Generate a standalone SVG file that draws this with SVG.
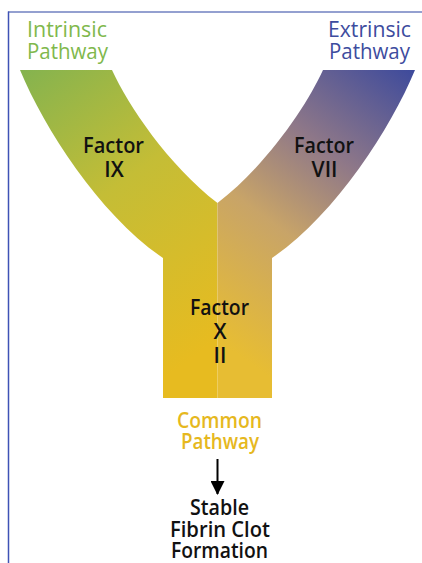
<svg xmlns="http://www.w3.org/2000/svg" width="422" height="563" viewBox="0 0 422 563">
<style>
text{font-family:"Open Sans","Liberation Sans",sans-serif;font-size:21px}
.t{font-weight:400}
.f{font-weight:600;fill:#111;text-anchor:middle}
.c{text-anchor:middle}
</style>
<defs>
<linearGradient id="gl" gradientUnits="userSpaceOnUse" x1="20" y1="70" x2="217" y2="340">
<stop offset="0" stop-color="#84b34f"/>
<stop offset="0.45" stop-color="#c4bd36"/>
<stop offset="1" stop-color="#e7bb20"/>
</linearGradient>
<linearGradient id="gr" gradientUnits="userSpaceOnUse" x1="415" y1="70" x2="218" y2="340">
<stop offset="0" stop-color="#3d4a9c"/>
<stop offset="0.35" stop-color="#8f7888"/>
<stop offset="0.62" stop-color="#c8a468"/>
<stop offset="1" stop-color="#e7bd33"/>
</linearGradient>
<marker id="ah" viewBox="0 0 14 14" refX="13" refY="7" markerWidth="14" markerHeight="14" markerUnits="userSpaceOnUse" orient="auto">
<path d="M0,0 L14,7 L0,14 Z" fill="#000"/>
</marker>
</defs>
<g id="frame" fill="none">
<line x1="8" y1="12" x2="422" y2="12" stroke="#7080c0" stroke-width="1.5"/>
<line x1="8.5" y1="11.5" x2="8.5" y2="563" stroke="#3e52b5" stroke-width="1.5"/>
</g>
<g id="intrinsic-arm">
<path d="M20,70 L112,70 C128,105 168,165 217.5,203 L217.5,398 L163,398 L163,258 C100,215 45,130 20,70 Z" fill="url(#gl)"/>
</g>
<g id="extrinsic-arm">
<path d="M415,70 L323,70 C307,105 267,165 217.5,203 L217.5,398 L272,398 L272,258 C335,215 390,130 415,70 Z" fill="url(#gr)"/>
</g>
<g id="intrinsic-label">
<text class="t" x="27" y="37" fill="#80b84c" textLength="80" lengthAdjust="spacingAndGlyphs">Intrinsic</text>
<text class="t" x="27" y="59" fill="#80b84c" textLength="81" lengthAdjust="spacingAndGlyphs">Pathway</text>
</g>
<g id="extrinsic-label">
<text class="t" x="328" y="37" fill="#3d4c9e" textLength="83" lengthAdjust="spacingAndGlyphs">Extrinsic</text>
<text class="t" x="329" y="59" fill="#3d4c9e" textLength="81" lengthAdjust="spacingAndGlyphs">Pathway</text>
</g>
<g id="factor-ix">
<text class="f" x="113.5" y="153" textLength="61" lengthAdjust="spacingAndGlyphs">Factor</text>
<text class="f" x="114" y="177">IX</text>
</g>
<g id="factor-vii">
<text class="f" x="324" y="153" textLength="60" lengthAdjust="spacingAndGlyphs">Factor</text>
<text class="f" x="324.5" y="177">VII</text>
</g>
<g id="factor-x-ii">
<text class="f" x="219.5" y="315" textLength="59" lengthAdjust="spacingAndGlyphs">Factor</text>
<text class="f" x="220" y="339">X</text>
<text class="f" x="220" y="363">II</text>
</g>
<g id="common-pathway">
<text class="f c" x="219.5" y="428" style="fill:#e6b81e" textLength="85" lengthAdjust="spacingAndGlyphs">Common</text>
<text class="f c" x="220" y="449" style="fill:#e6b81e" textLength="78" lengthAdjust="spacingAndGlyphs">Pathway</text>
</g>
<g id="connectors">
<line x1="217.5" y1="459" x2="217.5" y2="494" stroke="#000" stroke-width="2" marker-end="url(#ah)"/>
</g>
<g id="fibrin-clot">
<text class="f" x="219.5" y="515" textLength="59" lengthAdjust="spacingAndGlyphs">Stable</text>
<text class="f" x="220" y="537" textLength="100" lengthAdjust="spacingAndGlyphs">Fibrin Clot</text>
<text class="f" x="219.5" y="558" textLength="97" lengthAdjust="spacingAndGlyphs">Formation</text>
</g>
</svg>
